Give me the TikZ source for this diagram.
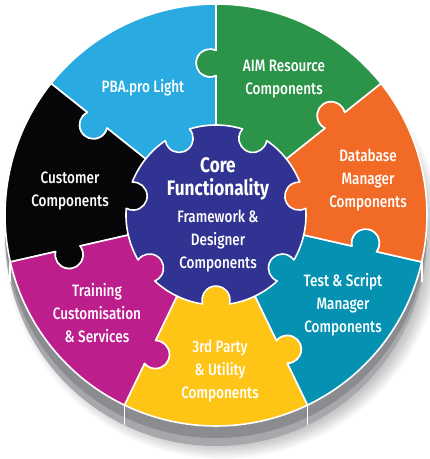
\documentclass[tikz,border=0pt]{standalone}
\usepackage{fontspec}
\setmainfont{Fira Sans}[FakeStretch=0.82, UprightFont={* Medium}, BoldFont={* Bold}]
\usetikzlibrary{calc}
\definecolor{pcyan}{RGB}{41,171,226}
\definecolor{pgreen}{RGB}{43,148,72}
\definecolor{porange}{RGB}{241,106,38}
\definecolor{pteal}{RGB}{4,145,178}
\definecolor{pyellow}{RGB}{254,196,22}
\definecolor{pmagenta}{RGB}{188,30,140}
\definecolor{pblack}{RGB}{6,6,8}
\definecolor{ppurple}{RGB}{48,51,145}
\definecolor{rimdark}{RGB}{138,140,143}
\definecolor{rimlight}{RGB}{166,168,171}
\tikzset{
  piece/.style={draw=white, line width=1.6pt, line join=round},
  label/.style={text=white, align=center, font=\fontsize{16.5}{23}\selectfont},
}
\begin{document}
\begin{tikzpicture}[x=1pt,y=-1pt]
\useasboundingbox (0,0) rectangle (430,459);
\fill[white] (0,0) rectangle (430,459);
\begin{scope}[shift={(216,215)}]
  % soft shadow
  \foreach \k in {1,...,10}
    \fill[black,opacity=0.025] (7,25) circle (203+\k*1.6);
  % rim
  \fill[rimlight] (0,20) circle (211);
  \fill[rimdark] (0,12) circle (211);
  \foreach \t in {12.857,64.286,115.714,167.143}
    \draw[white, line width=1.6pt] (\t:211) -- ++(0,20);
  % centre disc
  \fill[ppurple] (0,0) circle (90);
  % pieces
  \foreach \a/\col in {90/pyellow, 38.571/pteal, -12.857/porange, -64.286/pgreen,
                       -115.714/pcyan, 192.857/pblack, 141.429/pmagenta}{
    \pgfmathsetmacro\lo{\a-25.714}
    \pgfmathsetmacro\hi{\a+25.714}
    \filldraw[piece, fill=\col]
      (\lo:90) -- (\lo:139.35)
      arc[start angle=\lo+154.62, end angle=\lo+385.38, radius=14]
      -- (\lo:211)
      arc[start angle=\lo, end angle=\hi, radius=211]
      -- (\hi:164.65)
      arc[start angle=\hi+385.38, end angle=\hi+154.62, radius=14]
      -- (\hi:90)
      arc[start angle=\hi, end angle=\a+8.57, radius=90]
      arc[start angle=\a+73.4, end angle=\a+286.6, radius=14]
      arc[start angle=\a-8.57, end angle=\lo, radius=90] -- cycle;
  }
\end{scope}
% labels
\node[label] (pba) at (143,88) {PBA.pro Light};
\node[label] (aim) at (284,79) {AIM Resource\\Components};
\node[label] (db) at (368,180) {Database\\Manager\\Components};
\node[label] (test) at (343,305) {Test \& Script\\Manager\\Components};
\node[label] (third) at (220,371) {3rd Party\\\& Utility\\Components};
\node[label] (train) at (97,313) {Training\\Customisation\\\& Services};
\node[label] (cust) at (70,191) {Customer\\Components};
\node[text=white, align=center, font=\bfseries\fontsize{21}{23}\selectfont] (core) at (218,179) {Core\\Functionality};
\node[label] (fw) at (218,241) {Framework \&\\Designer\\Components};
\end{tikzpicture}
\end{document}
